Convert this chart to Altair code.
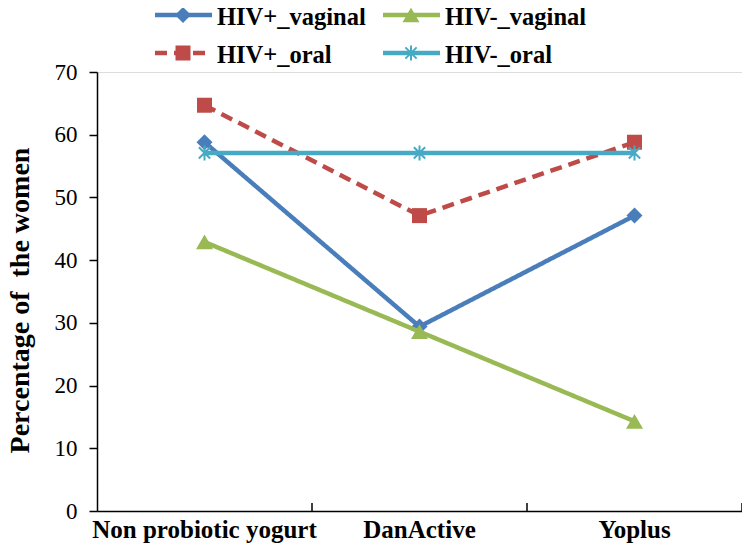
import altair as alt
import pandas as pd

categories = ["Non probiotic yogurt", "DanActive", "Yoplus"]
series_names = ["HIV+_vaginal", "HIV-_vaginal", "HIV+_oral", "HIV-_oral"]
hiv_pos_vaginal = [58.8, 29.4, 47.1]
hiv_neg_vaginal = [42.9, 28.6, 14.3]
hiv_pos_oral = [64.7, 47.1, 58.8]
hiv_neg_oral = [57.1, 57.1, 57.1]
y_ticks = [0, 10, 20, 30, 40, 50, 60, 70]

values = [hiv_pos_vaginal, hiv_neg_vaginal, hiv_pos_oral, hiv_neg_oral]
colors = ["#4A7EBB", "#98B954", "#BE4B48", "#46AAC5"]
dashes = [[1, 0], [1, 0], [12, 7], [1, 0]]
ASTERISK = "M0,-1L0,1M-0.75,-0.75L0.75,0.75M-0.75,0.75L0.75,-0.75"
shapes = ["diamond", "triangle-up", "square", ASTERISK]
sizes = [256, 289, 225, 225]

W, H = 645, 439
SERIF = "Liberation Serif"

rows = []
for name, vals in zip(series_names, values):
    for c, v in zip(categories, vals):
        rows.append({"series": name, "category": c, "value": v})
df = pd.DataFrame(rows)

x_axis = alt.Axis(
    title=None, labelAngle=0, labelAlign="center", labelBaseline="top",
    ticks=False, domainColor="black", domainWidth=1.5, labelLimit=0,
    labelFont=SERIF, labelFontWeight="bold", labelFontSize=25, labelColor="black",
    labelPadding=6,
)
x_scale = alt.Scale(type="band", paddingInner=0, paddingOuter=0)
x_enc = alt.X("category:N", sort=categories, scale=x_scale, axis=x_axis)
y_enc = alt.Y(
    "value:Q",
    scale=alt.Scale(domain=[0, 70]),
    axis=alt.Axis(
        values=y_ticks, grid=False, tickSize=8, tickColor="black", tickWidth=1.5,
        domainColor="black", domainWidth=1.5,
        labelFont=SERIF, labelFontSize=23, labelColor="black", labelPadding=12,
        title="Percentage of\u00a0 the women", titleFont=SERIF, titleFontSize=28,
        titleFontWeight="bold", titleColor="black", titleAngle=270,
        titleAlign="center", titleBaseline="middle", titleX=-77, titleY=228,
    ),
)

layers = []
# inward ticks at band boundaries on the x axis
tick_df = pd.DataFrame({"category": categories})
layers.append(
    alt.Chart(tick_df).mark_rule(color="black", strokeWidth=1.5).encode(
        x=alt.X("category:N", sort=categories, bandPosition=1, scale=x_scale, axis=x_axis),
        y=alt.value(H - 8), y2=alt.value(H),
    )
)

for i, name in enumerate(series_names):
    sub = df[df.series == name]
    base = alt.Chart(sub)
    layers.append(
        base.mark_line(color=colors[i], strokeWidth=4.5, strokeDash=dashes[i]).encode(
            x=x_enc, y=y_enc
        )
    )
    if shapes[i] == ASTERISK:
        pt = base.mark_point(shape=ASTERISK, filled=False, stroke=colors[i],
                             strokeWidth=2, size=sizes[i], opacity=1)
    else:
        pt = base.mark_point(shape=shapes[i], filled=True, color=colors[i],
                             size=sizes[i], opacity=1)
    layers.append(pt.encode(x=x_enc, y=y_enc))

# legend (2 columns x 2 rows)
for i, name in enumerate(series_names):
    col, row = i % 2, i // 2
    x0 = 58 + col * 228
    yy = -57 + row * 38
    ldata = pd.DataFrame({"series": [name]})
    lb = alt.Chart(ldata)
    layers.append(
        lb.mark_rule(color=colors[i], strokeWidth=4.5, strokeDash=dashes[i]).encode(
            x=alt.value(x0), x2=alt.value(x0 + 57), y=alt.value(yy)
        )
    )
    if shapes[i] == ASTERISK:
        lp = lb.mark_point(shape=ASTERISK, filled=False, stroke=colors[i],
                           strokeWidth=2, size=sizes[i], opacity=1)
    else:
        lp = lb.mark_point(shape=shapes[i], filled=True, color=colors[i],
                           size=sizes[i], opacity=1)
    layers.append(lp.encode(x=alt.value(x0 + 28), y=alt.value(yy)))
    layers.append(
        lb.mark_text(align="left", baseline="middle", font=SERIF, fontSize=24.5,
                     fontWeight="bold", color="black").encode(
            x=alt.value(x0 + 62), y=alt.value(yy + 3), text="series:N"
        )
    )

chart = alt.layer(*layers).properties(
    width=W, height=H,
    autosize=alt.AutoSizeParams(type="none"),
    padding={"left": 89, "top": 64, "right": 0, "bottom": 33},
).configure_view(stroke=None).configure(background="white")

chart.save("out.html", embed_options={"renderer": "svg", "actions": False})
